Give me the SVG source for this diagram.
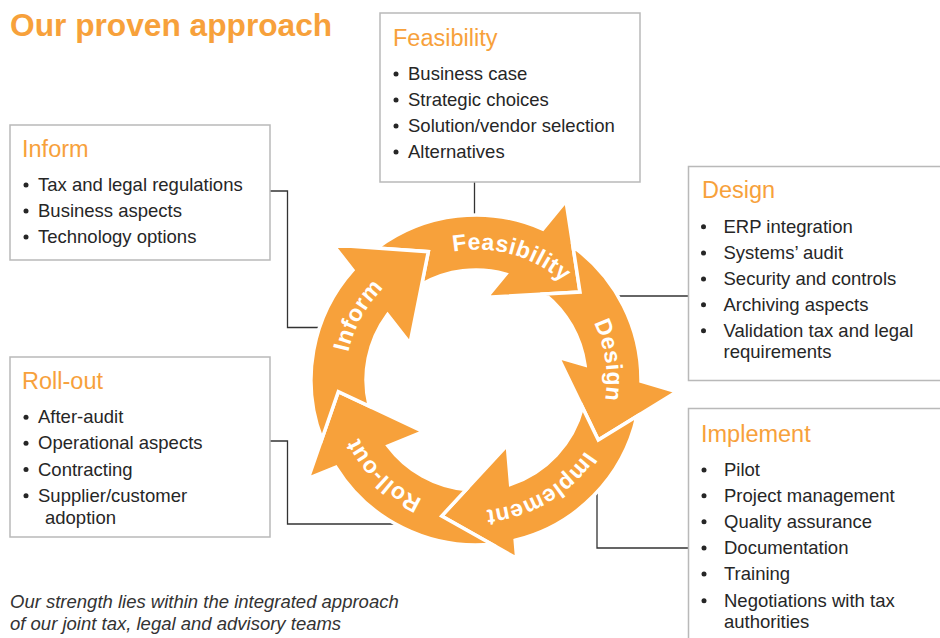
<svg xmlns="http://www.w3.org/2000/svg" width="940" height="638" viewBox="0 0 940 638">
<style>
.ttl{font-family:"Liberation Sans",Arial,sans-serif;font-weight:bold;font-size:31.7px;fill:#F7A13B}
.bt{font-family:"Liberation Sans",Arial,sans-serif;font-size:23.5px;fill:#F7A13B}
.it{font-family:"Liberation Sans",Arial,sans-serif;font-size:18.5px;fill:#262626}
.ft{font-family:"Liberation Sans",Arial,sans-serif;font-size:18.5px;font-style:italic;fill:#333}
.box{fill:#fff;stroke:#b9b9b9;stroke-width:1.5}
.dot{fill:#262626}
.arr{fill:#F7A13B;stroke:#fff;stroke-width:3.5;stroke-linejoin:miter}
.lbl{font-family:"Liberation Sans",Arial,sans-serif;font-weight:bold;font-size:23px;letter-spacing:0.5px;fill:#fff}
.con{fill:none;stroke:#333;stroke-width:1.3}
</style>
<defs>
<path id="ring" d="M 411 267.42 A 130 130 0 1 1 541 492.58 A 130 130 0 1 1 411 267.42"/>
</defs>
<rect width="940" height="638" fill="#fff"/>
<text class="ttl" x="10" y="36">Our proven approach</text>

<g id="connectors">
<path class="con" d="M 474.5 182 V 216"/>
<path class="con" d="M 270 191 H 287.5 V 327.5 H 319"/>
<path class="con" d="M 270 441 H 287.5 V 524 H 395"/>
<path class="con" d="M 618 296 H 688"/>
<path class="con" d="M 597 492 V 548 H 688"/>
</g>

<g id="cycle">
<path id="arrow-feasibility" class="arr" d="M 376.9 248.1 A 165 165 0 0 1 542.8 229.1 L 566 201 L 580 292 L 486.7 297.3 L 505.8 274.1 A 110 110 0 0 0 421.8 284.3 L 428.3 251.7 Z"/>
<path id="arrow-design" class="arr" d="M 573.0 246.5 A 165 165 0 0 1 641.0 381.3 L 676.7 391.7 L 598.3 440 L 558.3 357.3 L 585.0 365.1 A 110 110 0 0 0 544.6 294.0 L 580 292 Z"/>
<path id="arrow-implement" class="arr" d="M 637.0 416.2 A 165 165 0 0 1 515.2 540.3 L 516.7 558.3 L 441.7 516 L 507.3 445 L 510.6 484.4 A 110 110 0 0 0 582.5 407.4 L 598.3 440 Z"/>
<path id="arrow-rollout" class="arr" d="M 491.8 544.2 A 165 165 0 0 1 335.9 467.1 L 308.3 478.3 L 338.3 391.7 L 423.3 431.7 L 388.0 446.0 A 110 110 0 0 0 466.1 489.6 L 441.7 516 Z"/>
<path id="arrow-inform" class="arr" d="M 321.9 439.0 A 165 165 0 0 1 352.9 270.1 L 333.3 245 L 428.3 251.7 L 410 343.3 L 387.6 314.6 A 110 110 0 0 0 369.2 406.2 L 338.3 391.7 Z"/>
<text class="lbl" text-anchor="middle"><textPath href="#ring" startOffset="104.4">Feasibility</textPath></text>
<text class="lbl" text-anchor="middle"><textPath href="#ring" startOffset="254.1">Design</textPath></text>
<text class="lbl" text-anchor="middle"><textPath href="#ring" startOffset="408.4">Implement</textPath></text>
<text class="lbl" text-anchor="middle"><textPath href="#ring" startOffset="578.6">Roll-out</textPath></text>
<text class="lbl" text-anchor="middle"><textPath href="#ring" startOffset="748.7">Inform</textPath></text>
</g>

<g id="feasibility">
<rect class="box" x="380" y="13" width="260" height="169"/>
<text class="bt" x="393" y="45.5">Feasibility</text>
<circle class="dot" cx="396" cy="74" r="2.5"/><text class="it" x="408" y="80">Business case</text>
<circle class="dot" cx="396" cy="100" r="2.5"/><text class="it" x="408" y="106">Strategic choices</text>
<circle class="dot" cx="396" cy="126" r="2.5"/><text class="it" x="408" y="132">Solution/vendor selection</text>
<circle class="dot" cx="396" cy="152" r="2.5"/><text class="it" x="408" y="158">Alternatives</text>
</g>

<g id="inform">
<rect class="box" x="10" y="125" width="260" height="135"/>
<text class="bt" x="22" y="157.3">Inform</text>
<circle class="dot" cx="26" cy="185" r="2.5"/><text class="it" x="38" y="191">Tax and legal regulations</text>
<circle class="dot" cx="26" cy="211" r="2.5"/><text class="it" x="38" y="217">Business aspects</text>
<circle class="dot" cx="26" cy="237" r="2.5"/><text class="it" x="38" y="243">Technology options</text>
</g>

<g id="rollout">
<rect class="box" x="10" y="357" width="260" height="180"/>
<text class="bt" x="22" y="389.3">Roll-out</text>
<circle class="dot" cx="26" cy="417.3" r="2.5"/><text class="it" x="38" y="423.3">After-audit</text>
<circle class="dot" cx="26" cy="443.3" r="2.5"/><text class="it" x="38" y="449.3">Operational aspects</text>
<circle class="dot" cx="26" cy="469.5" r="2.5"/><text class="it" x="38" y="475.5">Contracting</text>
<circle class="dot" cx="26" cy="495.7" r="2.5"/><text class="it" x="38" y="501.7">Supplier/customer</text>
<text class="it" x="45" y="524">adoption</text>
</g>

<g id="design">
<path class="box" d="M 940 166.5 H 688.5 V 380.5 H 940"/>
<text class="bt" x="702" y="198.3">Design</text>
<circle class="dot" cx="703.5" cy="226.7" r="2.5"/><text class="it" x="723.5" y="232.7">ERP integration</text>
<circle class="dot" cx="703.5" cy="253" r="2.5"/><text class="it" x="723.5" y="259">Systems’ audit</text>
<circle class="dot" cx="703.5" cy="279" r="2.5"/><text class="it" x="723.5" y="285">Security and controls</text>
<circle class="dot" cx="703.5" cy="304.7" r="2.5"/><text class="it" x="723.5" y="310.7">Archiving aspects</text>
<circle class="dot" cx="703.5" cy="330.7" r="2.5"/><text class="it" x="723.5" y="336.7">Validation tax and legal</text>
<text class="it" x="723.5" y="357.7">requirements</text>
</g>

<g id="implement">
<path class="box" d="M 940 408.5 H 688.5 V 638"/>
<text class="bt" x="701" y="441.7">Implement</text>
<circle class="dot" cx="704" cy="470" r="2.5"/><text class="it" x="724" y="476">Pilot</text>
<circle class="dot" cx="704" cy="495.7" r="2.5"/><text class="it" x="724" y="501.7">Project management</text>
<circle class="dot" cx="704" cy="521.7" r="2.5"/><text class="it" x="724" y="527.7">Quality assurance</text>
<circle class="dot" cx="704" cy="548" r="2.5"/><text class="it" x="724" y="554">Documentation</text>
<circle class="dot" cx="704" cy="574" r="2.5"/><text class="it" x="724" y="580">Training</text>
<circle class="dot" cx="704" cy="600.7" r="2.5"/><text class="it" x="724" y="606.7">Negotiations with tax</text>
<text class="it" x="724" y="628.3">authorities</text>
</g>

<g id="footer">
<text class="ft" x="10" y="607.7">Our strength lies within the integrated approach</text>
<text class="ft" x="10" y="630">of our joint tax, legal and advisory teams</text>
</g>
</svg>
